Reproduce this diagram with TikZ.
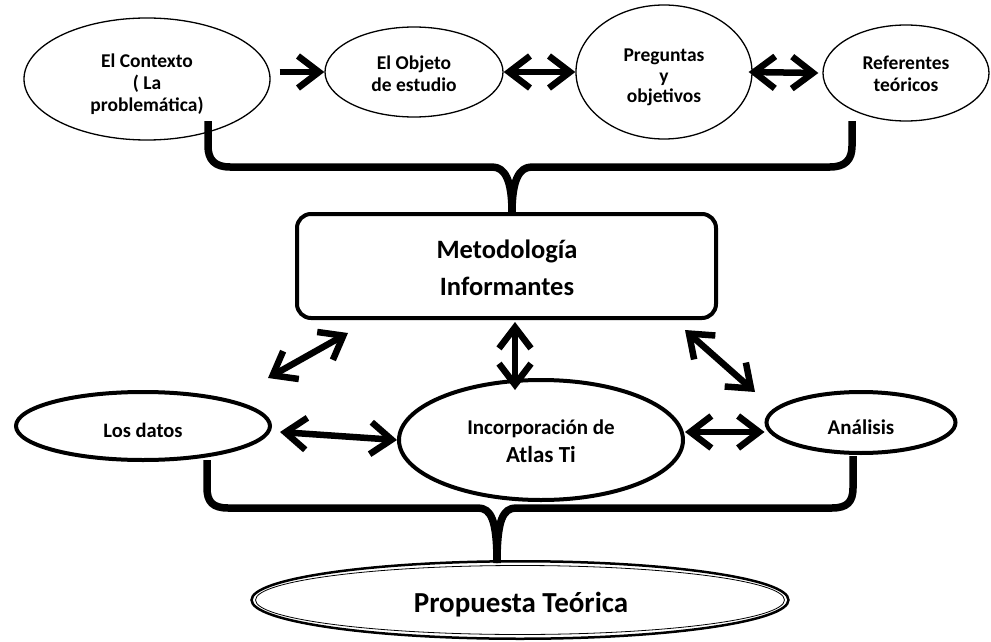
\documentclass[tikz,border=0pt]{standalone}
\usepackage{fontspec}
\setmainfont{Carlito}
\usetikzlibrary{shapes.geometric,arrows.meta,calc}
\begin{document}
\begin{tikzpicture}[x=1pt,y=-1pt,
  topell/.style={ellipse,draw,line width=1.3pt,inner sep=0pt},
  lowell/.style={ellipse,draw,line width=4pt,inner sep=0pt},
  toptext/.style={inner sep=0pt,align=center,font=\fontsize{19.5}{22}\selectfont\bfseries},
  lowtext/.style={inner sep=0pt,align=center,font=\fontsize{20.5}{27}\selectfont\bfseries},
  brace/.style={line width=7.5pt,line join=round},
  barb/.tip={Straight Barb[length=21pt,width=32pt]},
  onearrow/.style={line width=6.5pt,-barb},
  twoarrow/.style={line width=6.5pt,barb-barb},
]
\useasboundingbox (0,0) rectangle (991,642);

% top row
\node[topell,minimum width=246pt,minimum height=122pt] (ctx) at (147,79) {};
\node[toptext] (ctx-t) at (147,84.5) {El Contexto\\( La\\problemática)};
\node[topell,minimum width=178pt,minimum height=90pt] (obj) at (414,72) {};
\node[toptext] (obj-t) at (414,74) {El Objeto\\de estudio};
\node[topell,minimum width=176pt,minimum height=134pt] (preg) at (664,72) {};
\node[toptext,font=\fontsize{19.5}{20.5}\selectfont\bfseries] (preg-t) at (664,77.5) {Preguntas\\y\\objetivos};
\node[topell,minimum width=166pt,minimum height=96pt] (ref) at (906,73) {};
\node[toptext] (ref-t) at (906,74) {Referentes\\teóricos};

% middle box
\node[draw,line width=4pt,rounded corners=14pt,minimum width=419pt,minimum height=104pt] (met) at (506.5,266) {};
\node[inner sep=0pt,align=center,font=\fontsize{26.5}{37.5}\selectfont\bfseries] (met-t) at (507,268) {Metodología\\Informantes};

% lower row
\node[lowell,minimum width=254pt,minimum height=68pt] (datos) at (143,426) {};
\node[lowtext] (datos-t) at (143,430) {Los datos};
\node[lowell,minimum width=284pt,minimum height=120pt] (inc) at (541,440) {};
\node[lowtext,font=\fontsize{21}{27.5}\selectfont\bfseries] (inc-t) at (541,441) {Incorporación de\\\fontsize{23}{27.5}\selectfont Atlas Ti};
\node[lowell,minimum width=189pt,minimum height=61pt] (ana) at (861,422.5) {};
\node[lowtext,font=\fontsize{21}{27}\selectfont\bfseries] (ana-t) at (861,427.5) {Análisis};

% bottom
\node[ellipse,draw,line width=2.5pt,inner sep=0pt,minimum width=537pt,minimum height=77.5pt] (prop) at (520,600) {};
\draw[line width=0.8pt] (prop.center) ellipse (264.5pt and 34.5pt);
\node[inner sep=0pt,font=\fontsize{29}{33}\selectfont\bfseries] (prop-t) at (521,605) {Propuesta Teórica};

% top brace
\coordinate (tl) at (208,121);
\coordinate (tr) at (852,121);
\coordinate (tm) at (512,213);
\draw[brace] (tl) -- (208,146) .. controls (208,160) and (215,167) .. (230,167) -- (492,167) .. controls (505,167) and (512,180) .. (tm);
\draw[brace] (tr) -- (852,146) .. controls (852,160) and (845,167) .. (830,167) -- (532,167) .. controls (519,167) and (512,180) .. (tm);

% bottom brace
\coordinate (bl) at (207,460);
\coordinate (br) at (853,456);
\coordinate (bm) at (497,563);
\draw[brace] (bl) -- (207,488) .. controls (207,502) and (213,508) .. (228,508) -- (478,508) .. controls (491,508) and (497,520) .. (bm);
\draw[brace] (br) -- (853,488) .. controls (853,502) and (847,508) .. (832,508) -- (516,508) .. controls (503,508) and (497,520) .. (bm);

% arrows top
\draw[onearrow] ([xshift=9pt]ctx.east |- obj.west) -- (obj.west);
\draw[twoarrow] (obj.east) -- (preg.west);
\draw[twoarrow] ([xshift=-4pt]preg.east) -- ([xshift=-4pt]ref.west);

% arrows middle
\coordinate (dl1) at (268,378);
\coordinate (dl2) at (348,333);
\draw[twoarrow] (dl1) -- (dl2);
\coordinate (vc1) at (515,322);
\coordinate (vc2) at (515,390);
\draw[twoarrow] (vc1) -- (vc2);
\coordinate (dr1) at (685,330);
\coordinate (dr2) at (755,392);
\draw[twoarrow] (dr1) -- (dr2);

% arrows lower
\coordinate (h1) at (280,432);
\coordinate (h2) at (397,440);
\draw[twoarrow] (h1) -- (h2);
\draw[twoarrow] (inc.east |- 0,432) -- (ana.west |- 0,432);
\end{tikzpicture}
\end{document}
